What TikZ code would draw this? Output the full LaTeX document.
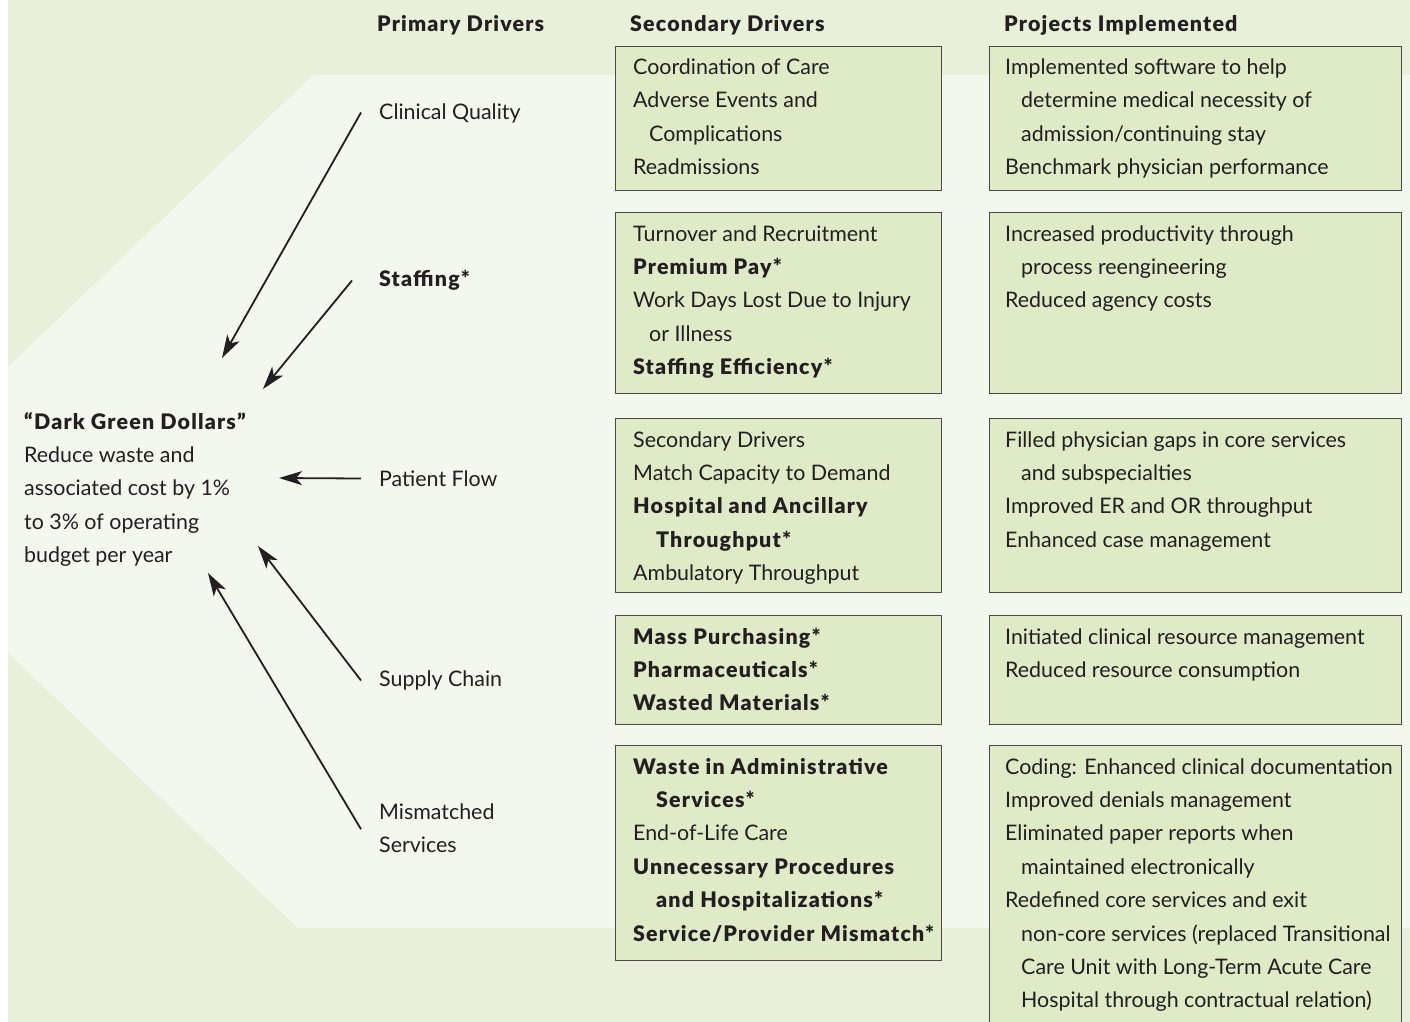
\documentclass[tikz,border=0pt]{standalone}
\usepackage{fontspec}
\IfFontExistsTF{Lato Black}{%
  \setmainfont{Lato}[BoldFont={Lato Black},BoldFeatures={LetterSpace=5.5}]%
}{%
  \setmainfont{Lato}[BoldFeatures={LetterSpace=8}]%
}
\usetikzlibrary{arrows.meta}
\definecolor{outerg}{HTML}{E8F0DA}
\definecolor{innerg}{HTML}{F4F7ED}
\definecolor{boxg}{HTML}{DFEAC6}
\definecolor{boxline}{HTML}{4A4A48}
\definecolor{ink}{HTML}{231F20}
\newcommand\mainsz{\fontsize{21.4}{33.4}\selectfont}
\newcommand\ind{\hspace*{16pt}}
\tikzset{
  txt/.style={inner sep=0, anchor=north west, align=left, font=\mainsz, text=ink},
  hdr/.style={txt, font=\mainsz\bfseries},
  dbox/.style={draw=boxline, line width=1.3pt, fill=boxg, anchor=north west, inner sep=0},
  sbox/.style={dbox, minimum width=326pt},
  pbox/.style={dbox, minimum width=412pt},
  arr/.style={draw=ink, line width=1.8pt, -{Stealth[length=23pt,width=14pt,inset=6pt]}},
}
\begin{document}
\begin{tikzpicture}[x=1pt,y=-1pt]
\useasboundingbox (0,0) rectangle (1410,1022);
% backgrounds
\fill[white] (0,0) rectangle (1410,1022);
\fill[outerg] (8,0) rectangle (1410,1022);
\fill[innerg] (8,367) -- (313,75) -- (1410,75) -- (1410,928) -- (298,928) -- (8,653) -- cycle;

% headers
\node[hdr] (h1) at (377,7.6) {\strut Primary Drivers};
\node[hdr] (h2) at (630,7.6) {\strut Secondary Drivers};
\node[hdr] (h3) at (1004,7.6) {\strut Projects Implemented};

% goal
\node[txt] (dg) at (24,405.6) {\strut\textbf{“Dark Green Dollars”}\\
\strut Reduce waste and\\
\strut associated cost by 1\%\\
\strut to 3\% of operating\\
\strut budget per year};

% primary drivers
\node[txt] (cq) at (379,95.6) {\strut Clinical Quality};
\node[txt] (st) at (379,262.6) {\strut\textbf{Staffing*}};
\node[txt] (pf) at (379,462.6) {\strut Patient Flow};
\node[txt] (sc) at (379,662.6) {\strut Supply Chain};
\node[txt] (ms) at (379,795.6) {\strut Mismatched\\\strut Services};

% tips
\coordinate (t1) at (222,358);
\coordinate (t2) at (263,389);
\coordinate (t3) at (279,478);
\coordinate (t4) at (258,546);
\coordinate (t5) at (208,573);
\draw[arr] ([xshift=-18pt]cq.west) -- (t1);
\draw[arr] ([xshift=-27pt,yshift=-1pt]st.west) -- (t2);
\draw[arr] ([xshift=-18pt,yshift=1pt]pf.west) -- (t3);
\draw[arr] ([xshift=-18pt,yshift=-1pt]sc.west) -- (t4);
\draw[arr] ([xshift=-18pt]ms.west) -- (t5);

% secondary boxes
\node[sbox, minimum height=144pt] (s1) at (615,46) {};
\node[sbox, minimum height=181pt] (s2) at (615,212) {};
\node[sbox, minimum height=174pt] (s3) at (615,418) {};
\node[sbox, minimum height=109pt] (s4) at (615,615) {};
\node[sbox, minimum height=215pt] (s5) at (615,745) {};

% project boxes
\node[pbox, minimum height=144pt] (p1) at (989,46) {};
\node[pbox, minimum height=181pt] (p2) at (989,212) {};
\node[pbox, minimum height=174pt] (p3) at (989,418) {};
\node[pbox, minimum height=109pt] (p4) at (989,615) {};
\node[pbox, minimum height=290pt] (p5) at (989,745) {};

% secondary texts
\node[txt] (s1t) at ([xshift=18pt,yshift=-5pt]s1.north west) {\strut Coordination of Care\\
\strut Adverse Events and\\
\strut\ind Complications\\
\strut Readmissions};
\node[txt] (s2t) at ([xshift=18pt,yshift=-5.5pt]s2.north west) {\strut Turnover and Recruitment\\
\strut\textbf{Premium Pay*}\\
\strut Work Days Lost Due to Injury\\
\strut\ind or Illness\\
\strut\textbf{Staffing Efficiency*}};
\node[txt] (s3t) at ([xshift=18pt,yshift=-5.5pt]s3.north west) {\strut Secondary Drivers\\
\strut Match Capacity to Demand\\
\strut\textbf{Hospital and Ancillary}\\
\strut\hspace*{23pt}\textbf{Throughput*}\\
\strut Ambulatory Throughput};
\node[txt] (s4t) at ([xshift=18pt,yshift=-5.5pt]s4.north west) {\strut\textbf{Mass Purchasing*}\\
\strut\textbf{Pharmaceuticals*}\\
\strut\textbf{Wasted Materials*}};
\node[txt] (s5t) at ([xshift=18pt,yshift=-5.5pt]s5.north west) {\strut\textbf{Waste in Administrative}\\
\strut\hspace*{23pt}\textbf{Services*}\\
\strut End-of-Life Care\\
\strut\textbf{Unnecessary Procedures}\\
\strut\hspace*{23pt}\textbf{and Hospitalizations*}\\
\strut\textbf{Service/Provider Mismatch*}};

% project texts
\node[txt] (p1t) at ([xshift=16pt,yshift=-5pt]p1.north west) {\strut Implemented software to help\\
\strut\ind determine medical necessity of\\
\strut\ind admission/continuing stay\\
\strut Benchmark physician performance};
\node[txt] (p2t) at ([xshift=16pt,yshift=-5.5pt]p2.north west) {\strut Increased productivity through\\
\strut\ind process reengineering\\
\strut Reduced agency costs};
\node[txt] (p3t) at ([xshift=16pt,yshift=-5.5pt]p3.north west) {\strut Filled physician gaps in core services\\
\strut\ind and subspecialties\\
\strut Improved ER and OR throughput\\
\strut Enhanced case management};
\node[txt] (p4t) at ([xshift=16pt,yshift=-5.5pt]p4.north west) {\strut Initiated clinical resource management\\
\strut Reduced resource consumption};
\node[txt] (p5t) at ([xshift=16pt,yshift=-5.5pt]p5.north west) {\strut Coding: Enhanced clinical documentation\\
\strut Improved denials management\\
\strut Eliminated paper reports when\\
\strut\ind maintained electronically\\
\strut Redefined core services and exit\\
\strut\ind non-core services (replaced Transitional\\
\strut\ind Care Unit with Long-Term Acute Care\\
\strut\ind Hospital through contractual relation)};
\end{tikzpicture}
\end{document}
